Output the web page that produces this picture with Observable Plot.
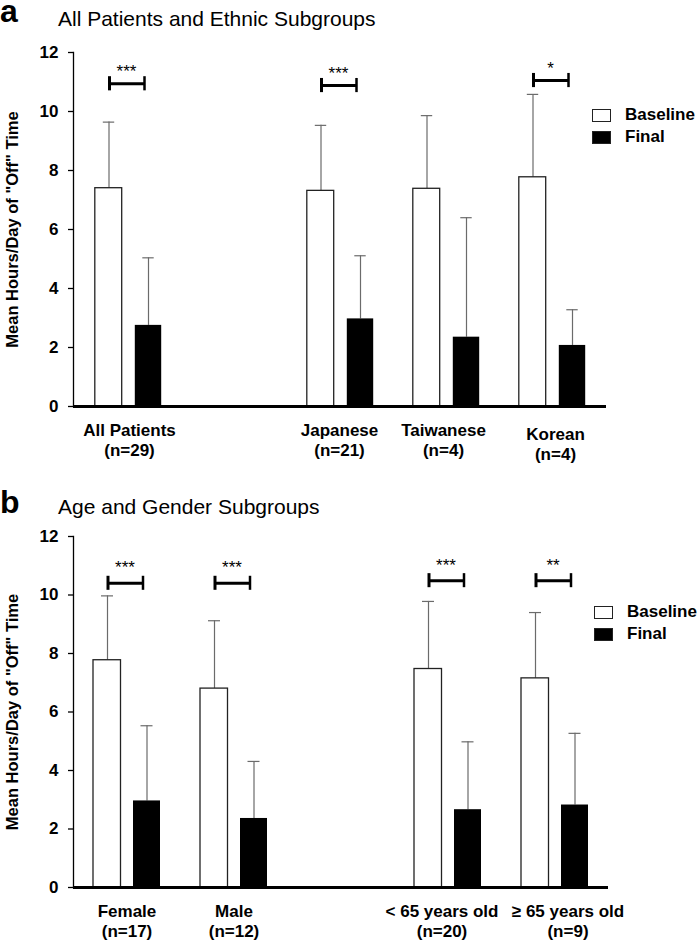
<!DOCTYPE html>
<html><head><meta charset="utf-8">
<script src="https://cdn.jsdelivr.net/npm/d3@7"></script>
<script src="https://cdn.jsdelivr.net/npm/@observablehq/plot@0.6"></script>
<style>
body{margin:0;background:#fff;font-family:"Liberation Sans",Arial,sans-serif;color:#000;}
#root{position:relative;width:700px;height:941px;overflow:hidden;background:#fff;}
.panel{position:absolute;left:0;width:700px;}
.abs{position:absolute;line-height:1;white-space:nowrap;}
.letter{font-weight:bold;font-size:32px;line-height:0.7;}
.title{font-size:21px;}
.legtxt{font-weight:bold;font-size:17px;}
.sw{position:absolute;width:17px;height:11px;border:1.3px solid #222;}
</style></head>
<body><div id="root"></div>
<script>
// ---- Panel a: All Patients and Ethnic Subgroups ----
const slotsA = ["All Patients", "gapA", "Japanese", "Taiwanese", "Korean"];
const groupsA = ["All Patients", "Japanese", "Taiwanese", "Korean"];
const nA = [29, 21, 4, 4];
const baselineA = [7.40, 7.31, 7.38, 7.77];
const baselineSdA = [2.24, 2.22, 2.48, 2.81];
const finalA = [2.75, 2.97, 2.35, 2.07];
const finalSdA = [2.29, 2.14, 4.05, 1.21];
const sigA = ["***", "***", "", "*"];
const bracketA = [10.94, 10.88, null, 11.05];

// ---- Panel b: Age and Gender Subgroups ----
const slotsB = ["Female", "Male", "gapB", "< 65 years old", "≥ 65 years old"];
const groupsB = ["Female", "Male", "< 65 years old", "≥ 65 years old"];
const nB = [17, 12, 20, 9];
const baselineB = [7.77, 6.80, 7.47, 7.15];
const baselineSdB = [2.20, 2.32, 2.31, 2.25];
const finalB = [2.96, 2.36, 2.66, 2.82];
const finalSdB = [2.57, 1.95, 2.32, 2.45];
const sigB = ["***", "***", "***", "**"];
const bracketB = [10.40, 10.40, 10.49, 10.49];

const yTicks = [0, 2, 4, 6, 8, 10, 12];
const seriesNames = ["Baseline", "Final"];
const yLabel = 'Mean Hours/Day of "Off" Time';
const titleA = "All Patients and Ethnic Subgroups";
const titleB = "Age and Gender Subgroups";

function makePanel(c) {
  const width = 700, marginLeft = 73;
  const slotW = (width - marginLeft - c.marginRight) / c.slots.length;
  const h = slotW / 2;
  const rows = c.groups.map((g, i) => ({
    group: g, label: `${g}\n(n=${c.n[i]})`,
    base: c.base[i], baseHi: c.base[i] + c.baseSd[i],
    fin: c.fin[i], finHi: c.fin[i] + c.finSd[i],
    sig: c.sig[i], br: c.bracket[i]
  }));
  const sigRows = rows.filter(d => d.sig);
  const err = {stroke: "#6b6b6b", strokeWidth: 1.2};
  const labelMarks = rows.map((r, i) => Plot.text([r], {
    x: "group", text: "label", frameAnchor: "bottom", dx: c.labelDx[i], dy: 15 + c.labelDy[i],
    lineAnchor: "top", lineHeight: 1.18, fontSize: 17, fontWeight: "bold"
  }));
  return Plot.plot({
    width, height: c.height, marginLeft, marginRight: c.marginRight,
    marginTop: c.marginTop, marginBottom: c.marginBottom,
    style: {fontFamily: '"Liberation Sans", Arial, sans-serif', color: "#000", background: "transparent", overflow: "visible"},
    x: {domain: c.slots, padding: 0, axis: null},
    y: {domain: [0, 12]},
    marks: [
      Plot.ruleX(rows, {x: "group", y1: "base", y2: "baseHi", dx: -19.5, ...err}),
      Plot.tickY(rows, {x: "group", y: "baseHi", insetLeft: h - 25.5, insetRight: h + 13.5, ...err}),
      Plot.ruleX(rows, {x: "group", y1: "fin", y2: "finHi", dx: 20, ...err}),
      Plot.tickY(rows, {x: "group", y: "finHi", insetLeft: h + 14, insetRight: h - 26, ...err}),
      Plot.barY(rows, {x: "group", y: "base", fill: "white", stroke: "#222", strokeWidth: 1.3, insetLeft: h - 33.5, insetRight: h + 6}),
      Plot.barY(rows, {x: "group", y: "fin", fill: "black", insetLeft: h + 6.5, insetRight: h - 33.5}),
      Plot.tickY(sigRows, {x: "group", y: "br", insetLeft: h - 19.5, insetRight: h - 16.5, strokeWidth: 3}),
      Plot.ruleX(sigRows, {x: "group", y1: d => d.br - 0.24, y2: d => d.br + 0.24, dx: -19, strokeWidth: 3}),
      Plot.ruleX(sigRows, {x: "group", y1: d => d.br - 0.24, y2: d => d.br + 0.24, dx: 16, strokeWidth: 2.5}),
      Plot.text(sigRows, {x: "group", y: d => d.br + c.starOffset, text: "sig", fontSize: 17, dx: -2}),
      Plot.ruleY([0], {strokeWidth: 3}),
      Plot.frame({anchor: "left", strokeWidth: 1.3}),
      Plot.axisY(yTicks, {tickSize: 5, tickPadding: 10, fontSize: 17, fontWeight: "bold", strokeWidth: 1.3, label: null}),
      Plot.text([yLabel], {text: d => d, frameAnchor: "left", textAnchor: "middle", rotate: -90, dx: -61, fontSize: 16.5, fontWeight: "bold"}),
      ...labelMarks
    ]
  });
}

function addPanel(top, letter, title, chart, leg) {
  const root = document.getElementById("root");
  const p = document.createElement("div");
  p.className = "panel"; p.style.top = top + "px";
  p.appendChild(chart);
  const l = document.createElement("div");
  l.className = "abs letter"; l.textContent = letter;
  l.style.left = "0px"; l.style.top = leg.letterTop + "px";
  p.appendChild(l);
  const t = document.createElement("div");
  t.className = "abs title"; t.textContent = title;
  t.style.left = "58px"; t.style.top = leg.titleTop + "px";
  p.appendChild(t);
  seriesNames.forEach((s, i) => {
    const sw = document.createElement("div");
    sw.className = "sw";
    sw.style.left = leg.x + "px"; sw.style.top = (leg.y + i * 22) + "px";
    sw.style.background = i === 0 ? "#fff" : "#000";
    p.appendChild(sw);
    const tx = document.createElement("div");
    tx.className = "abs legtxt"; tx.textContent = s;
    tx.style.left = (leg.x + 33) + "px"; tx.style.top = (leg.y - 3 + i * 22) + "px";
    p.appendChild(tx);
  });
  root.appendChild(p);
}

const chartA = makePanel({slots: slotsA, groups: groupsA, n: nA, base: baselineA, baseSd: baselineSdA,
  fin: finalA, finSd: finalSdA, sig: sigA, bracket: bracketA,
  labelDx: [1, -1, -3, 3], labelDy: [0, 0, 0, 4],
  height: 470, marginTop: 52, marginBottom: 64, marginRight: 94, starOffset: 0.41});
const chartB = makePanel({slots: slotsB, groups: groupsB, n: nB, base: baselineB, baseSd: baselineSdB,
  fin: finalB, finSd: finalSdB, sig: sigB, bracket: bracketB,
  labelDx: [0, 0, -6, 13], labelDy: [0, 0, 0, 0],
  height: 471, marginTop: 66, marginBottom: 54, marginRight: 92, starOffset: 0.53});

addPanel(0, "a", titleA, chartA, {letterTop: 0, titleTop: 8, x: 592, y: 109});
addPanel(470, "b", titleB, chartB, {letterTop: 21, titleTop: 26, x: 594, y: 136});
</script></body></html>
